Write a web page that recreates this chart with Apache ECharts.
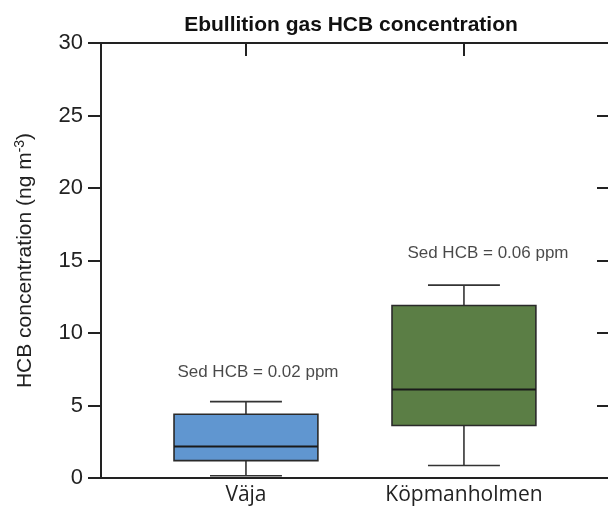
<!DOCTYPE html>
<html>
<head>
<meta charset="utf-8">
<script src="https://cdn.jsdelivr.net/npm/echarts@6/dist/echarts.min.js"></script>
<style>
  html, body { margin: 0; padding: 0; background: #fff; }
  #chart { width: 608px; height: 511px; }
</style>
</head>
<body>
<div id="chart"></div>
<script>
// ---- Data ----
var categories = ['Väja', 'Köpmanholmen'];
var whiskerLow  = [0.16, 0.86];
var q1          = [1.20, 3.62];
var median      = [2.17, 6.10];
var q3          = [4.40, 11.90];
var whiskerHigh = [5.27, 13.30];
var notes       = ['Sed HCB = 0.02 ppm', 'Sed HCB = 0.06 ppm'];
var noteValues  = [7.3, 15.5];
var yTicks      = [0, 5, 10, 15, 20, 25, 30];

var boxColors = ['#6096d0', '#5b7e45'];
var lineColor = '#222222';

var boxData = categories.map(function (c, i) {
  return [i, whiskerLow[i], q1[i], median[i], q3[i], whiskerHigh[i]];
});
var noteData = categories.map(function (c, i) {
  return [i, noteValues[i]];
});

var chart = echarts.init(document.getElementById('chart'), null, { renderer: 'canvas' });

var xMin = -0.665, xMax = 1.67;

var option = {
  animation: false,
  backgroundColor: '#ffffff',
  title: {
    text: 'Ebullition gas HCB concentration',
    left: 346,
    textAlign: 'center',
    top: 10,
    textStyle: { fontFamily: 'Liberation Sans, Arial, sans-serif', fontWeight: 'bold', fontSize: 21, color: '#111' }
  },
  grid: { left: 101, right: -2, top: 43, bottom: 33, containLabel: false, outerBoundsMode: 'none' },
  xAxis: [
    {
      type: 'value', position: 'bottom', min: xMin, max: xMax,
      axisLine: { show: true, onZero: false, lineStyle: { color: lineColor, width: 2 } },
      axisTick: { show: false },
      splitLine: { show: false },
      axisLabel: {
        customValues: [0, 1],
        formatter: function (v) { return categories[Math.round(v)]; },
        fontFamily: 'Open Sans, sans-serif', fontSize: 21, color: '#222', margin: 7
      }
    },
    {
      type: 'value', position: 'top', min: xMin, max: xMax,
      axisLine: { show: true, onZero: false, lineStyle: { color: lineColor, width: 2 } },
      axisTick: { show: true, inside: true, length: 13, customValues: [0, 1], lineStyle: { color: lineColor, width: 2 } },
      axisLabel: { show: false },
      splitLine: { show: false }
    }
  ],
  yAxis: [
    {
      type: 'value', position: 'left', min: 0, max: 30, interval: 5,
      name: 'HCB concentration (ng m{sup|-3})',
      nameLocation: 'middle',
      nameGap: 64,
      nameTextStyle: {
        fontFamily: 'Liberation Sans, Arial, sans-serif', fontSize: 21, color: '#222',
        rich: { sup: { fontSize: 14, verticalAlign: 'top', lineHeight: 24, padding: [0, 0, 10, 0] } }
      },
      axisLine: { show: true, onZero: false, lineStyle: { color: lineColor, width: 2 } },
      axisTick: { show: true, inside: false, length: 13, lineStyle: { color: lineColor, width: 2 } },
      axisLabel: {
        fontFamily: 'Liberation Sans, Arial, sans-serif', fontSize: 22, color: '#222', margin: 18,
        formatter: function (v) { return yTicks.indexOf(v) >= 0 ? String(v) : ''; }
      },
      splitLine: { show: false }
    },
    {
      type: 'value', position: 'right', min: 0, max: 30, interval: 5,
      axisLine: { show: true, onZero: false, lineStyle: { color: lineColor, width: 2 } },
      axisTick: { show: true, inside: true, length: 13, lineStyle: { color: lineColor, width: 2 } },
      axisLabel: { show: false },
      splitLine: { show: false }
    }
  ],
  series: [
    {
      type: 'custom',
      xAxisIndex: 0, yAxisIndex: 0,
      data: boxData,
      encode: { x: 0, y: [1, 2, 3, 4, 5] },
      renderItem: function (params, api) {
        var i = api.value(0);
        var pLow = api.coord([i, api.value(1)]);
        var pQ1 = api.coord([i, api.value(2)]);
        var pMed = api.coord([i, api.value(3)]);
        var pQ3 = api.coord([i, api.value(4)]);
        var pHigh = api.coord([i, api.value(5)]);
        var boxW = api.size([0.66, 0])[0];
        var capW = api.size([0.33, 0])[0];
        var cx = pMed[0];
        var ls = { stroke: '#333', lineWidth: 1.6 };
        return {
          type: 'group',
          children: [
            { type: 'line', shape: { x1: cx, y1: pQ1[1], x2: cx, y2: pLow[1] }, style: ls },
            { type: 'line', shape: { x1: cx, y1: pQ3[1], x2: cx, y2: pHigh[1] }, style: ls },
            { type: 'line', shape: { x1: cx - capW / 2, y1: pLow[1], x2: cx + capW / 2, y2: pLow[1] }, style: ls },
            { type: 'line', shape: { x1: cx - capW / 2, y1: pHigh[1], x2: cx + capW / 2, y2: pHigh[1] }, style: ls },
            { type: 'rect', shape: { x: cx - boxW / 2, y: pQ3[1], width: boxW, height: pQ1[1] - pQ3[1] },
              style: { fill: boxColors[i], stroke: '#2a2a2a', lineWidth: 1.6 } },
            { type: 'line', shape: { x1: cx - boxW / 2, y1: pMed[1], x2: cx + boxW / 2, y2: pMed[1] },
              style: { stroke: '#1a1a1a', lineWidth: 2 } }
          ]
        };
      }
    },
    {
      type: 'scatter',
      xAxisIndex: 0, yAxisIndex: 0,
      symbolSize: 0,
      data: noteData,
      label: {
        show: true,
        position: 'inside',
        formatter: function (p) { return notes[p.dataIndex]; },
        fontFamily: 'Liberation Sans, Arial, sans-serif', fontSize: 17, color: '#1a1a1a'
      },
      labelLayout: function (p) {
        return { dx: p.dataIndex === 0 ? 12 : 24 };
      }
    }
  ]
};

chart.setOption(option);
</script>
</body>
</html>
